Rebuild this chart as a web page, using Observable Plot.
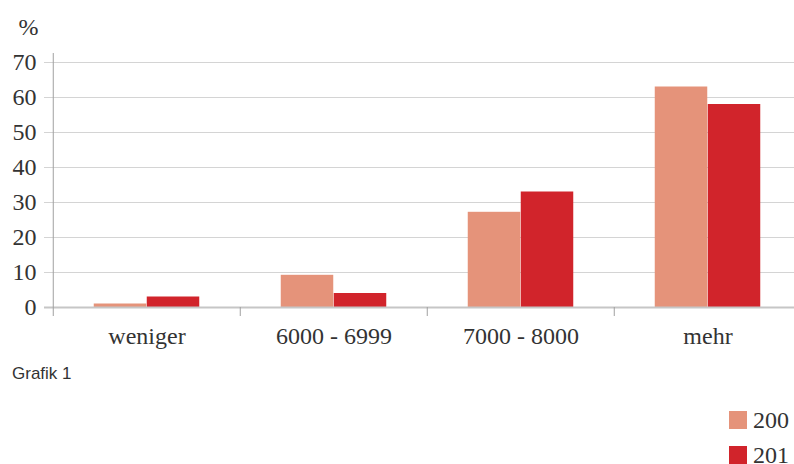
<!DOCTYPE html>
<html>
<head>
<meta charset="utf-8">
<script src="https://cdn.jsdelivr.net/npm/d3@7"></script>
<script src="https://cdn.jsdelivr.net/npm/@observablehq/plot@0.6"></script>
<style>
  html, body { margin: 0; padding: 0; background: #fff; }
  body { width: 794px; height: 464px; overflow: hidden; position: relative; }
  #chart { position: absolute; left: 0; top: 0; }
  #chart svg, #chart svg text { font-family: "Liberation Serif", "Times New Roman", serif !important; }
  #caption { position: absolute; left: 12px; top: 364px; font: 17px "Liberation Sans", Arial, sans-serif; color: #333; }
  .legend-item { position: absolute; left: 729px; height: 18px; display: flex; align-items: center; font: 24px "Liberation Serif", serif; color: #333; }
  .legend-item span.sw { display: inline-block; width: 18px; height: 18px; margin-right: 6px; }
</style>
</head>
<body>
<div id="chart"></div>
<div id="caption">Grafik 1</div>
<div id="legend"></div>
<script>
const categories = ["weniger", "6000 - 6999", "7000 - 8000", "mehr"];
const series = ["200", "201"];
const values200 = [1, 9.2, 27.2, 63];
const values201 = [3, 4, 33, 58];
const yTicks = [0, 10, 20, 30, 40, 50, 60, 70];
const colors = ["#E5937A", "#D1242B"];
const unitLabel = "%";
const captionText = "Grafik 1";

const data200 = categories.map((c, i) => ({category: c, series: series[0], value: values200[i]}));
const data201 = categories.map((c, i) => ({category: c, series: series[1], value: values201[i]}));

const W = 794, H = 350, mL = 52, mR = -8, mT = 62, mB = 43;
const bw = (W - mL - mR) / categories.length;
const barW = 53;

const plot = Plot.plot({
  width: W, height: H,
  marginLeft: mL, marginRight: mR, marginTop: mT, marginBottom: mB,
  style: {fontFamily: "'Liberation Serif', serif", fontSize: "24px", color: "#333", background: "#fff", overflow: "visible"},
  x: {domain: categories, padding: 0},
  y: {domain: [0, 70]},
  color: {domain: series, range: colors},
  marks: [
    Plot.gridY(yTicks, {stroke: "#d4d4d4", strokeOpacity: 1}),
    Plot.axisY(yTicks, {tickSize: 8, tickPadding: 8, stroke: "#d4d4d4", fill: "#333", fontSize: 24, label: null}),
    Plot.barY(data200, {x: "category", y: "value", fill: "series", insetLeft: bw / 2 - barW, insetRight: bw / 2}),
    Plot.barY(data201, {x: "category", y: "value", fill: "series", insetLeft: bw / 2, insetRight: bw / 2 - barW}),
    Plot.ruleY([0], {stroke: "#c6c6c6", strokeWidth: 2, insetLeft: -8}),
    Plot.ruleX([categories[0]], {dx: -bw / 2, insetTop: -9, insetBottom: -9, stroke: "#a0a0a0"}),
    Plot.ruleX(categories.slice(1), {dx: -bw / 2, y1: 0, y2: 0, insetBottom: -9, stroke: "#a0a0a0"}),
    Plot.axisX({tickSize: 0, tickPadding: 19, fontSize: 24, fill: "#333", label: null}),
    Plot.text([unitLabel], {frameAnchor: "top-left", dx: -24, dy: -35, textAnchor: "middle", lineAnchor: "middle", fontSize: 24, fill: "#333"})
  ]
});
document.getElementById("chart").appendChild(plot);
document.getElementById("caption").textContent = captionText;

const legend = document.getElementById("legend");
series.forEach((s, i) => {
  const item = document.createElement("div");
  item.className = "legend-item";
  item.style.top = (411 + i * 35) + "px";
  const sw = document.createElement("span");
  sw.className = "sw";
  sw.style.background = colors[i];
  item.appendChild(sw);
  item.appendChild(document.createTextNode(s));
  legend.appendChild(item);
});
</script>
</body>
</html>
